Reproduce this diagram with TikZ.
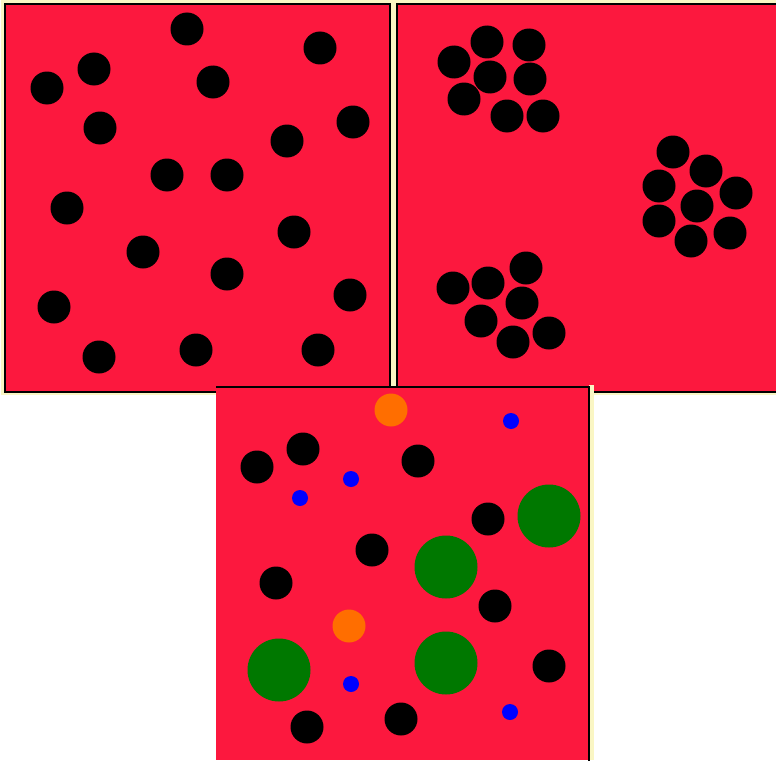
\documentclass[tikz,border=0pt]{standalone}
\usepackage{tikz}
\definecolor{tissue}{RGB}{252,24,62}
\definecolor{rim}{RGB}{250,246,196}
\definecolor{leaf}{RGB}{0,120,0}
\definecolor{amber}{RGB}{255,110,0}
\tikzset{
  panel/.style={fill=tissue,draw=black,line width=2pt},
  frame/.style={draw=black,line width=2pt},
  edge/.style={fill=rim},
  cell/.style={fill=black},
}
\begin{document}
\begin{tikzpicture}[x=1pt,y=-1pt]
        \useasboundingbox (0,0) rectangle (776,760);
        % top left : scattered
        \fill[edge] (1,0) rectangle (394,395);
        \draw[panel] (5,4) rectangle (390,392);
        \foreach \x/\y in {187/29,320/48,94/69,47/88,213/82,353/122,100/128,287/141,167/175,227/175,67/208,294/232,143/252,227/274,54/307,350/295,99/357,196/350,318/350}
            \fill[cell] (\x,\y) circle (16.5);
        % top right : clustered
        \fill[edge] (393,0) rectangle (776,395);
        \fill[tissue] (397,4) rectangle (776,392);
        \draw[frame] (778,4) -- (397,4) -- (397,392) -- (778,392);
        \foreach \x/\y in {487/42,529/45,454/62,490/77,530/79,464/99,507/116,543/116,673/152,706/171,659/186,736/193,697/206,659/221,730/233,691/241,526/268,488/283,453/288,522/303,481/321,513/342,549/333}
            \fill[cell] (\x,\y) circle (16.5);
        % bottom : mixed
        \fill[edge] (589,385) rectangle (594,760);
        \fill[tissue] (216,387) rectangle (589,760);
        \draw[frame] (216,387) -- (589,387) -- (589,762);
        \foreach \x/\y in {303/449,257/467,418/461,488/519,372/550,276/583,495/606,549/666,307/727,401/719}
            \fill[cell] (\x,\y) circle (16.5);
        \foreach \x/\y in {549/516,446/567,279/670,446/663}
            \fill[leaf] (\x,\y) circle (31.5);
        \foreach \x/\y in {391/410,349/626}
            \fill[amber] (\x,\y) circle (16.5);
        \foreach \x/\y in {511/421,351/479,300/498,351/684,510/712}
            \fill[blue] (\x,\y) circle (8);
    \end{tikzpicture}
\end{document}
